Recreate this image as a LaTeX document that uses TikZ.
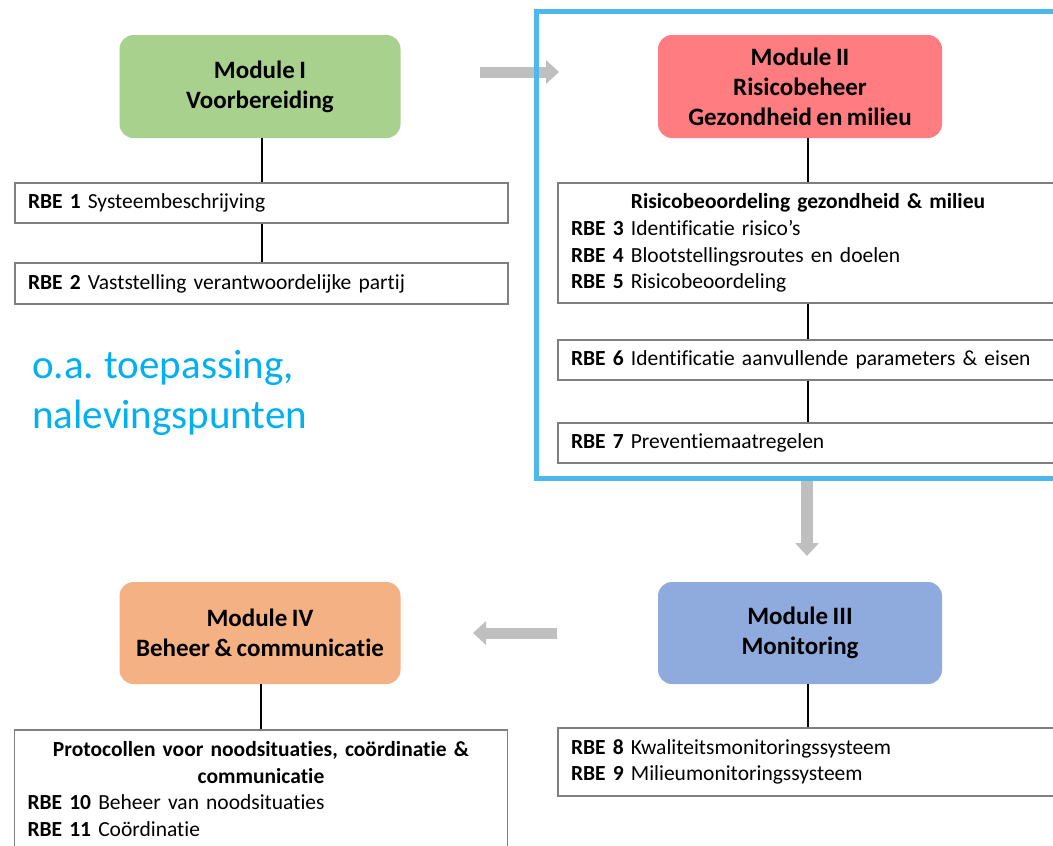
\documentclass[tikz,border=0pt]{standalone}
\usepackage{fontspec}
\setmainfont{Carlito}[Ligatures=NoCommon, WordSpace={0.8,0,0}]
\usetikzlibrary{arrows.meta}
\definecolor{modgreen}{HTML}{A9D18E}
\definecolor{modred}{HTML}{FF7C80}
\definecolor{modblue}{HTML}{8FAADC}
\definecolor{modorange}{HTML}{F4B183}
\definecolor{boxgray}{HTML}{7F7F7F}
\definecolor{arrowgray}{HTML}{BFBFBF}
\definecolor{frameblue}{HTML}{4DB8EC}
\definecolor{notecyan}{HTML}{00B0F0}
\begin{document}
\begin{tikzpicture}[x=1pt,y=-1pt,
  module/.style={rounded corners=14pt, inner sep=0pt, align=center,
    font=\fontsize{25}{30}\selectfont\bfseries, text=black},
  rbebox/.style={draw=boxgray, line width=1.4pt, fill=white, inner xsep=13pt,
    inner ysep=0pt, align=left, font=\fontsize{21.5}{26.7}\selectfont},
  conn/.style={line width=2pt, draw=black},
  flow/.style={line width=11pt, draw=arrowgray, -{Triangle[length=13pt,width=23pt]}},
  note/.style={anchor=base west, inner sep=0pt, text=notecyan, font=\fontsize{41}{50}\selectfont},
]
\useasboundingbox (0,0) rectangle (1053,846);
\fill[white] (0,0) rectangle (1053,846);

% gray flow arrows (drawn beneath the frame)
\coordinate (a1s) at (480,72);
\coordinate (a1e) at (559,72);
\coordinate (a2s) at (807,481);
\coordinate (a2e) at (807,556);
\coordinate (a3s) at (557,633);
\coordinate (a3e) at (473,633);
\draw[flow] (a1s) -- (a1e);
\draw[flow, line width=12pt] (a2s) -- (a2e);
\draw[flow] (a3s) -- (a3e);

% modules
\node[module, fill=modgreen, minimum width=281pt, minimum height=103pt] (m1) at (260,86.5) {Module I\\Voorbereiding};
\node[module, fill=modred, minimum width=284pt, minimum height=103pt] (m2) at (800,86.5) {Module II\\Risicobeheer\\Gezondheid en milieu};
\node[module, fill=modblue, minimum width=284pt, minimum height=102pt] (m3) at (800,633) {Module III\\Monitoring};
\node[module, fill=modorange, minimum width=281pt, minimum height=102pt] (m4) at (260,633) {Module IV\\Beheer \& communicatie};

% left column boxes
\node[rbebox, text width=467pt, minimum height=40pt] (r1) at (261.5,203) {\textbf{RBE 1} Systeembeschrijving};
\node[rbebox, text width=467pt, minimum height=41pt] (r2) at (261.5,283.5) {\textbf{RBE 2} Vaststelling verantwoordelijke partij};
\node[rbebox, text width=467pt, minimum height=118pt] (r10) at (261,789) {\makebox[\hsize][c]{\textbf{Protocollen voor noodsituaties, coördinatie \&}}\\\makebox[\hsize][c]{\textbf{communicatie}}\\\textbf{RBE 10} Beheer van noodsituaties\\\textbf{RBE 11} Coördinatie};

% right column boxes
\node[rbebox, text width=474pt, minimum height=120pt] (r3) at (808,243) {\makebox[\hsize][c]{\textbf{Risicobeoordeling gezondheid \& milieu}}\\\textbf{RBE 3} Identificatie risico’s\\\textbf{RBE 4} Blootstellingsroutes en doelen\\\textbf{RBE 5} Risicobeoordeling};
\node[rbebox, text width=474pt, minimum height=40pt] (r6) at (808,360) {\textbf{RBE 6} Identificatie aanvullende parameters \& eisen};
\node[rbebox, text width=474pt, minimum height=40pt] (r7) at (808,443) {\textbf{RBE 7} Preventiemaatregelen};
\node[rbebox, text width=474pt, minimum height=68pt] (r8) at (808,762) {\textbf{RBE 8} Kwaliteitsmonitoringssysteem\\\textbf{RBE 9} Milieumonitoringssysteem};

% connectors
\draw[conn] (r1.north |- m1.south) -- (r1.north);
\draw[conn] (r1.south) -- (r2.north);
\draw[conn] (r3.north |- m2.south) -- (r3.north);
\draw[conn] (r3.south) -- (r6.north);
\draw[conn] (r6.south) -- (r7.north);
\draw[conn] (r8.north |- m3.south) -- (r8.north);
\draw[conn] (r10.north |- m4.south) -- (r10.north);

% blue frame
\draw[line width=5pt, draw=frameblue] (536,11) rectangle (1075,478);

% note
\node[note] (n1) at (32,378) {o.a. toepassing,};
\node[note] (n2) at (32,428) {nalevingspunten};
\end{tikzpicture}
\end{document}
